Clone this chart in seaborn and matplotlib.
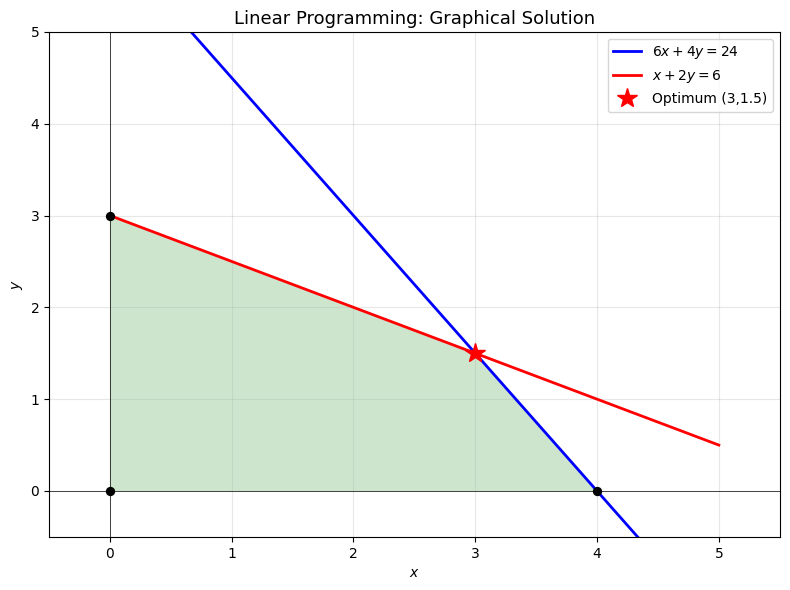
import matplotlib
matplotlib.use("Agg")
import matplotlib.pyplot as plt
import seaborn as sns
import numpy as np
import pandas as pd

x_vals = [0, 5]
blue_y = [6, -1.5]     # 6x + 4y = 24
red_y = [3, 0.5]       # x + 2y = 6
region_x = [0, 0, 3, 4]
region_y = [0, 3, 1.5, 0]
vertex_x = [0, 0, 4]
vertex_y = [0, 3, 0]
opt_x = [3]
opt_y = [1.5]

fig, ax = plt.subplots(figsize=(7.9, 5.9), dpi=100)

ax.fill(region_x, region_y, color="green", alpha=0.2, linewidth=0)
sns.lineplot(x=x_vals, y=blue_y, color="blue", linewidth=2, label=r"$6x + 4y = 24$", ax=ax)
sns.lineplot(x=x_vals, y=red_y, color="red", linewidth=2, label=r"$x + 2y = 6$", ax=ax)
ax.axhline(0, color="black", linewidth=0.5)
ax.axvline(0, color="black", linewidth=0.5)
sns.scatterplot(x=vertex_x, y=vertex_y, color="black", s=45, zorder=5, ax=ax, edgecolor="black", linewidth=0)
ax.plot(opt_x, opt_y, marker="*", color="red", markersize=15, linestyle="none",
        label="Optimum (3,1.5)", zorder=6)

ax.set_xlim(-0.5, 5.5)
ax.set_ylim(-0.5, 5)
ax.set_xlabel(r"$x$")
ax.set_ylabel(r"$y$")
ax.set_title("Linear Programming: Graphical Solution", fontsize=13)
ax.grid(True, alpha=0.3)
ax.legend(loc="upper right")
fig.subplots_adjust(left=0.062, right=0.987, top=0.946, bottom=0.09)
fig.savefig("out.png", dpi=100)
